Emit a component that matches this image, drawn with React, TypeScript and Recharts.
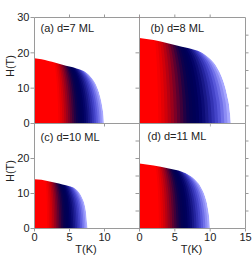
import React from 'react';
import { AreaChart, Area, XAxis, YAxis } from 'recharts';

// ---- data: upper critical field boundary H(T) ----
const panelLabels = ['(a) d=7 ML', '(b) d=8 ML', '(c) d=10 ML', '(d) d=11 ML'];

const tA = [0, 1, 2, 3, 4, 5, 6, 7, 7.5, 8, 8.5, 9, 9.4, 9.7, 9.85, 9.9];
const hA = [18.5, 18.2, 17.7, 17.2, 16.6, 16.1, 15.6, 14.9, 14.3, 13.3, 12, 10, 7.5, 4.5, 2, 0];

const tB = [0, 2, 4, 6, 8, 9, 10, 11, 11.8, 12.4, 12.8, 12.9];
const hB = [24.2, 23.6, 22.7, 21.7, 20.7, 19.9, 18.3, 15.8, 12.3, 8, 3, 0];

const tC = [0, 1, 2, 3, 4, 5, 5.7, 6.3, 6.8, 7.2, 7.4, 7.5, 7.55];
const hC = [14.1, 13.9, 13.5, 13.1, 12.6, 12.1, 11.6, 10.5, 8.8, 6.5, 4, 1.5, 0];

const tD = [0, 2, 4, 6, 7, 8, 8.7, 9.3, 9.7, 9.9, 9.95];
const hD = [18.6, 18.0, 17.2, 16.2, 15.3, 13.7, 11.8, 9, 5.5, 2, 0];

const xTicksMajor = [0, 5, 10, 15];
const yTicksMajor = [0, 10, 20, 30];
const yTicksMinor = [5, 10, 15, 20, 25];

// ---- styling: colour bands (fraction of the boundary, outer -> inner) ----
const bandScale = [
  1.0, 0.97, 0.94, 0.91, 0.88, 0.85, 0.82, 0.79, 0.76, 0.73, 0.7, 0.67, 0.64,
  0.61, 0.58, 0.55, 0.52, 0.49, 0.46, 0.43, 0.4, 0.37, 0.34, 0.31,
];
const bandColor = [
  '#a8a8ff', '#8c8cf4', '#7070e8', '#5858da', '#4444c8', '#3434b4', '#24249e', '#181888', '#0c0c76',
  '#040468', '#00005c', '#000056', '#040052', '#0e004c', '#220044', '#3e003a', '#5c0030', '#7c0026',
  '#9a001c', '#b60012', '#d0000a', '#e40004', '#f40002', '#ff0000',
];
const STRETCH = 0.5;

const FONT = '"Liberation Sans", Arial, sans-serif';
const AXIS = '#9a9a9a';
const TEXT = '#222';
const W = 252;
const H = 263;

type Rect = { x: number; y: number; w: number; h: number };

const build = (t: number[], h: number[]) => t.map((v, i) => ({ T: v, H: h[i] }));

const blank = () => '';

interface PanelProps {
  rect: Rect;
  data: { T: number; H: number }[];
  spread: number;
  leftTicks: number[];
  leftLabels: boolean;
  bottomTicks: number[];
  bottomLabels: boolean;
  topTicks: number[];
  rightTicks: number[];
}

const Panel = (p: PanelProps) => {
  const leftW = 30;
  const rightW = 6;
  const topH = 6;
  const botH = 22;
  const margin = {
    left: p.rect.x - leftW,
    top: p.rect.y - topH,
    right: W - (p.rect.x + p.rect.w) - rightW,
    bottom: H - (p.rect.y + p.rect.h) - botH,
  };
  const tickStyle = { fontSize: 11, fill: TEXT, fontFamily: FONT };
  const eff = bandScale.map((s) => 1 - (1 - s) * p.spread);
  return (
    <div style={{ position: 'absolute', left: 0, top: 0, width: W, height: H }}>
      <AreaChart width={W} height={H} data={p.data} margin={margin}>
        {eff.map((s, i) => (
          <XAxis
            key={'bx' + i}
            xAxisId={'x' + i}
            type="number"
            dataKey="T"
            domain={[0, 15 / s]}
            allowDataOverflow
            hide
          />
        ))}
        {eff.map((s, i) => (
          <YAxis
            key={'by' + i}
            yAxisId={'y' + i}
            type="number"
            domain={[0, 30 / (1 + STRETCH * (1 - s))]}
            allowDataOverflow
            hide
          />
        ))}
        {eff.map((s, i) => (
          <Area
            key={'band' + i}
            xAxisId={'x' + i}
            yAxisId={'y' + i}
            type="monotone"
            dataKey="H"
            stroke="none"
            fill={bandColor[i]}
            fillOpacity={1}
            dot={false}
            activeDot={false}
            isAnimationActive={false}
          />
        ))}
        <Area
          xAxisId="b"
          yAxisId="l"
          type="monotone"
          dataKey={(d: { H: number }) => [d.H, 30]}
          stroke="none"
          fill="#ffffff"
          fillOpacity={1}
          dot={false}
          activeDot={false}
          isAnimationActive={false}
        />
        <XAxis
          xAxisId="b"
          type="number"
          dataKey="T"
          domain={[0, 15]}
          ticks={p.bottomTicks}
          interval={0}
          height={botH}
          orientation="bottom"
          allowDataOverflow
          stroke={AXIS}
          tickLine={{ stroke: AXIS }}
          tickSize={3}
          tickMargin={2}
          tick={tickStyle}
          tickFormatter={p.bottomLabels ? undefined : blank}
        />
        <XAxis
          xAxisId="t"
          type="number"
          dataKey="T"
          domain={[0, 15]}
          ticks={p.topTicks}
          interval={0}
          height={topH}
          orientation="top"
          allowDataOverflow
          stroke={AXIS}
          tickLine={{ stroke: AXIS }}
          tickSize={3}
          tick={tickStyle}
          tickFormatter={blank}
        />
        <YAxis
          yAxisId="l"
          type="number"
          domain={[0, 30]}
          ticks={p.leftTicks}
          interval={0}
          width={leftW}
          orientation="left"
          allowDataOverflow
          stroke={AXIS}
          tickLine={{ stroke: AXIS }}
          tickSize={4}
          tickMargin={1}
          tick={tickStyle}
          tickFormatter={p.leftLabels ? undefined : blank}
        />
        <YAxis
          yAxisId="r"
          type="number"
          domain={[0, 30]}
          ticks={p.rightTicks}
          interval={0}
          width={rightW}
          orientation="right"
          allowDataOverflow
          stroke={AXIS}
          tickLine={{ stroke: AXIS }}
          tickSize={3}
          tick={tickStyle}
          tickFormatter={blank}
        />
      </AreaChart>
    </div>
  );
};

const rectA: Rect = { x: 34.5, y: 17.5, w: 105, h: 106 };
const rectB: Rect = { x: 139.5, y: 17.5, w: 106, h: 106 };
const rectC: Rect = { x: 34.5, y: 123.5, w: 105, h: 105 };
const rectD: Rect = { x: 139.5, y: 123.5, w: 106, h: 105 };

export default function App() {
  const labelStyle = { fontSize: 11, fill: TEXT, fontFamily: FONT };
  return (
    <div style={{ position: 'absolute', left: 0, top: 0, width: W, height: H, background: '#fff' }}>
      <Panel
        rect={rectA}
        data={build(tA, hA)}
        spread={0.95}
        leftTicks={yTicksMajor}
        leftLabels
        bottomTicks={[5, 10]}
        bottomLabels={false}
        topTicks={[5, 10, 15]}
        rightTicks={[]}
      />
      <Panel
        rect={rectB}
        data={build(tB, hB)}
        spread={1.15}
        leftTicks={[10, 20]}
        leftLabels={false}
        bottomTicks={[5, 10]}
        bottomLabels={false}
        topTicks={[5, 10]}
        rightTicks={yTicksMinor}
      />
      <Panel
        rect={rectC}
        data={build(tC, hC)}
        spread={1.1}
        leftTicks={[0, 10, 20]}
        leftLabels
        bottomTicks={[0, 5, 10]}
        bottomLabels
        topTicks={[]}
        rightTicks={[]}
      />
      <Panel
        rect={rectD}
        data={build(tD, hD)}
        spread={1.05}
        leftTicks={yTicksMinor}
        leftLabels={false}
        bottomTicks={xTicksMajor}
        bottomLabels
        topTicks={[]}
        rightTicks={yTicksMinor}
      />
      <svg
        width={W}
        height={H}
        style={{ position: 'absolute', left: 0, top: 0, pointerEvents: 'none' }}
      >
        <text x={40.5} y={32} {...labelStyle}>{panelLabels[0]}</text>
        <text x={150.5} y={32} {...labelStyle}>{panelLabels[1]}</text>
        <text x={40.5} y={141} {...labelStyle}>{panelLabels[2]}</text>
        <text x={147.5} y={140} {...labelStyle}>{panelLabels[3]}</text>
        <text x={10} y={66} textAnchor="middle" dominantBaseline="central" transform="rotate(-90 10 66)" {...labelStyle}>H(T)</text>
        <text x={10} y={171} textAnchor="middle" dominantBaseline="central" transform="rotate(-90 10 171)" {...labelStyle}>H(T)</text>
        <text x={86} y={253} textAnchor="middle" {...labelStyle}>T(K)</text>
        <text x={191.5} y={253} textAnchor="middle" {...labelStyle}>T(K)</text>
      </svg>
    </div>
  );
}
